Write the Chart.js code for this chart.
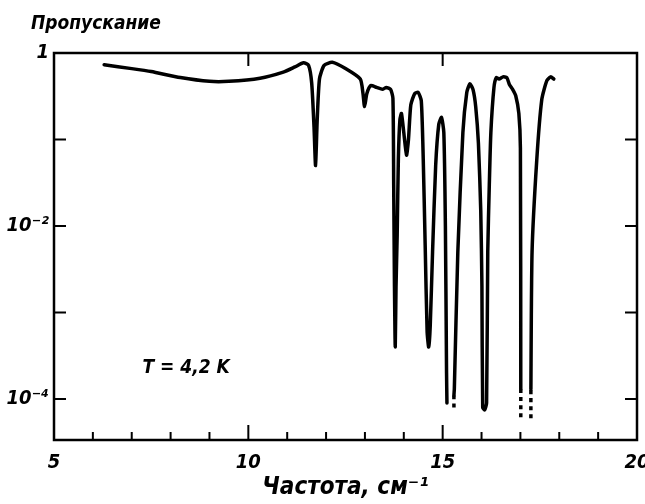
<!DOCTYPE html>
<html>
<head>
<meta charset="utf-8">
<script src="https://cdn.jsdelivr.net/npm/chart.js@4/dist/chart.umd.min.js"></script>
<style>
    html, body { margin: 0; padding: 0; background: #fff; }
    #wrap { width: 645px; height: 504px; }
</style>
</head>
<body>
<div id="wrap"><canvas id="chart" width="645" height="504"></canvas></div>
<script>
// frequency, cm^-1 (null entries break the trace where it runs off the bottom)
const FREQ = [
    6.29, 7.0, 7.5, 8.25, 9.0, 9.5, 10.3, 10.9, 11.2, 11.42, 11.55, 11.63, 11.69, 11.73, 11.77, 11.83, 11.95,
    12.16, 12.5, 12.88, 12.95, 12.99, 13.05, 13.15, 13.3, 13.45, 13.55, 13.66,
    13.72, 13.74, 13.76, 13.78, 13.80, 13.83, 13.86, 13.90, 13.94, 14.0, 14.07, 14.12, 14.18, 14.28, 14.37,
    14.45, 14.50, 14.55, 14.60, 14.64, 14.68, 14.74, 14.82, 14.90, 14.97, 15.03, 15.07, 15.10, 15.11,
    15.2,
    15.29, 15.29, 15.30, 15.39, 15.52, 15.62, 15.70, 15.78, 15.85, 15.92, 15.98, 16.01, 16.03, 16.08, 16.13,
    16.16, 16.20, 16.24, 16.32, 16.38, 16.45, 16.55, 16.65, 16.72, 16.80, 16.88, 16.96, 17.0, 17.01, 17.01,
    17.14,
    17.27, 17.27, 17.30, 17.42, 17.55, 17.68, 17.78, 17.86,
]
const TRANSMISSION = [
    0.73, 0.66, 0.61, 0.52, 0.47, 0.47, 0.51, 0.60, 0.69, 0.77, 0.72, 0.45, 0.14, 0.05, 0.16, 0.5, 0.72,
    0.78, 0.66, 0.50, 0.34, 0.24, 0.34, 0.42, 0.40, 0.38, 0.40, 0.38,
    0.3, 0.03, 0.002, 0.0004, 0.002, 0.008, 0.06, 0.17, 0.2, 0.12, 0.066, 0.1, 0.25, 0.34, 0.35,
    0.28, 0.06, 0.006, 0.0006, 0.0004, 0.0007, 0.005, 0.05, 0.15, 0.18, 0.12, 0.01, 0.0002, 9e-5,
    null,
    8e-5, 1.1e-4, 1.3e-4, 0.005, 0.12, 0.35, 0.44, 0.38, 0.24, 0.09, 0.015, 0.002, 8e-5, 7.5e-5, 9e-5,
    0.005, 0.03, 0.12, 0.4, 0.52, 0.5, 0.53, 0.52, 0.43, 0.38, 0.32, 0.2, 0.08, 1.3e-4, 6e-5,
    null,
    6e-5, 1.3e-4, 0.005, 0.057, 0.29, 0.48, 0.53, 0.5,
]

const X_MIN = 5
const X_MAX = 20
const X_MAJOR = [5, 10, 15, 20]
const X_TOP_TICKS = [10, 15]
const Y_MIN = 3.36e-5
const Y_MAX = 1
const Y_TICKS = [1e-4, 1e-3, 1e-2, 1e-1, 1]
const Y_LABELS = { 1: '1', 0.01: '10⁻²', 0.0001: '10⁻⁴' }

const Y_TITLE = 'Пропускание'
const X_TITLE = 'Частота, см⁻¹'
const NOTE = 'T = 4,2 K'
const NOTE_AT = { x: 8.4, y: 2.3e-4 }

;(() => {
    'use strict'

    const INK = '#000'
    const FONT = "'DejaVu Sans Condensed', 'Liberation Sans Narrow', sans-serif"

    // frame and inward tick marks, like the printed figure
    const framePlugin = {
        id: 'frame',
        afterDatasetsDraw(chart) {
            const { ctx, chartArea: a } = chart
            const xs = chart.scales.x
            const ys = chart.scales.y
            ctx.save()
            ctx.strokeStyle = INK
            ctx.lineWidth = 2.5
            ctx.strokeRect(a.left, a.top, a.right - a.left, a.bottom - a.top)
            ctx.lineWidth = 2
            ctx.beginPath()
            for (let v = X_MIN + 1; v < X_MAX; v++) {
                const px = xs.getPixelForValue(v)
                const len = X_MAJOR.includes(v) ? 15 : 8
                ctx.moveTo(px, a.bottom)
                ctx.lineTo(px, a.bottom - len)
            }
            X_TOP_TICKS.forEach((v) => {
                const px = xs.getPixelForValue(v)
                ctx.moveTo(px, a.top)
                ctx.lineTo(px, a.top + 13)
            })
            Y_TICKS.filter(v => v < Y_MAX).forEach((v) => {
                const py = ys.getPixelForValue(v)
                ctx.moveTo(a.left, py)
                ctx.lineTo(a.left + 12, py)
                ctx.moveTo(a.right, py)
                ctx.lineTo(a.right - 12, py)
            })
            ctx.stroke()

            ctx.fillStyle = INK
            ctx.textBaseline = 'alphabetic'
            ctx.textAlign = 'left'
            ctx.font = 'italic bold 19px ' + FONT
            ctx.fillText(Y_TITLE, 31, 29)
            ctx.textAlign = 'center'
            ctx.textBaseline = 'middle'
            ctx.font = 'italic bold 19px ' + FONT
            ctx.fillText(NOTE, xs.getPixelForValue(NOTE_AT.x), ys.getPixelForValue(NOTE_AT.y))
            ctx.restore()
        },
    }

    new Chart(document.getElementById('chart'), {
        type: 'line',
        data: {
            labels: FREQ,
            datasets: [
                {
                    data: FREQ.map((f, i) => ({ x: f, y: TRANSMISSION[i] })),
                    borderColor: INK,
                    borderWidth: 3.5,
                    pointRadius: 0,
                    tension: 0.2,
                    spanGaps: false,
                    borderCapStyle: 'round',
                    borderJoinStyle: 'round',
                    segment: {
                        // vertical drop-outs at the bottom are printed dotted
                        borderDash: ctx => (ctx.p0.parsed.x === ctx.p1.parsed.x ? [4, 4] : undefined),
                        borderCapStyle: ctx => (ctx.p0.parsed.x === ctx.p1.parsed.x ? 'butt' : 'round'),
                    },
                },
            ],
        },
        options: {
            responsive: false,
            animation: false,
            layout: {
                padding: { top: 53, right: 8, left: 0, bottom: 0 },
            },
            plugins: {
                legend: { display: false },
                tooltip: { enabled: false },
            },
            scales: {
                x: {
                    type: 'linear',
                    min: X_MIN,
                    max: X_MAX,
                    grid: { display: false, drawTicks: false },
                    border: { display: false },
                    ticks: {
                        stepSize: 1,
                        padding: 11,
                        maxRotation: 0,
                        autoSkip: false,
                        color: INK,
                        font: { family: FONT, size: 20, style: 'italic', weight: 'bold' },
                        callback: v => (X_MAJOR.includes(v) ? String(v) : ''),
                    },
                    title: {
                        display: true,
                        text: X_TITLE,
                        color: INK,
                        padding: { top: 0, bottom: 2 },
                        font: { family: FONT, size: 24, style: 'italic', weight: 'bold' },
                    },
                    afterFit: (scale) => {
                        scale.height = 64
                        scale.paddingLeft = 0
                        scale.paddingRight = 0
                    },
                },
                y: {
                    type: 'logarithmic',
                    min: Y_MIN,
                    max: Y_MAX,
                    grid: { display: false, drawTicks: false },
                    border: { display: false },
                    afterBuildTicks: (scale) => {
                        scale.ticks = Y_TICKS.map(v => ({ value: v }))
                    },
                    ticks: {
                        padding: 5,
                        autoSkip: false,
                        color: INK,
                        font: { family: FONT, size: 20, style: 'italic', weight: 'bold' },
                        callback: v => Y_LABELS[v] || '',
                    },
                    afterFit: (scale) => {
                        scale.width = 54
                        scale.paddingTop = 0
                        scale.paddingBottom = 0
                    },
                },
            },
        },
        plugins: [framePlugin],
    })
})()
</script>
</body>
</html>
